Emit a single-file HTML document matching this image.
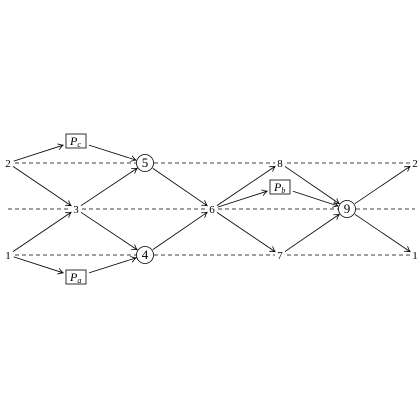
<!DOCTYPE html>
<html><head><meta charset="utf-8"><style>
html,body{margin:0;padding:0;background:#fff;width:420px;height:420px;overflow:hidden}
text{font-family:"Liberation Serif",serif;fill:#000}
</style></head><body>
<svg id="g" width="420" height="420" viewBox="0 0 420 420">
<defs><marker id="ah" markerWidth="8" markerHeight="8" refX="6" refY="4" orient="auto" markerUnits="userSpaceOnUse"><path d="M1,1 Q4,3.2 6,4 Q4,4.8 1,7" fill="none" stroke="#000" stroke-width="0.8"/></marker></defs>
</svg>
<script>
const nodeIds=['2L','1L','3','5','4','6','8','7','9','2R','1R','Pc','Pa','Pb'];
const nodeLabels=['2','1','3','5','4','6','8','7','9','2','1','P','P','P'];
const nodeX=[8,8,76,145,145,212,280,280,347,415,415,76,76,280];
const nodeY=[163,255,209,163,255,209,163,255,209,163,255,141,277,187];
const nodeKind=['t','t','t','c','c','t','t','t','c','t','t','b','b','b'];
const subs={Pc:'c',Pa:'a',Pb:'b'};
const edges=[['2L','Pc'],['Pc','5'],['2L','3'],['1L','3'],['1L','Pa'],['Pa','4'],['3','5'],['3','4'],['5','6'],['4','6'],['6','8'],['6','Pb'],['6','7'],['8','9'],['Pb','9'],['7','9'],['9','2R'],['9','1R']];
const dashed=[[15,136,163],[154,275,163],[287,410,163],[8,70,209],[82,206,209],[218,340,209],[356,415,209],[15,136,255],[154,275,255],[287,410,255]];
const svg=document.getElementById('g');const NS='http://www.w3.org/2000/svg';
function mk(t,a){const e=document.createElementNS(NS,t);for(const k in a)e.setAttribute(k,a[k]);svg.appendChild(e);return e;}
dashed.forEach(d=>{const l=mk('line',{x1:d[0],y1:d[2],x2:d[1],y2:d[2],stroke:'#000','stroke-width':0.8,'stroke-dasharray':'4,3'});

});
function idx(id){return nodeIds.indexOf(id);}
function shrink(i,dx,dy){const k=nodeKind[i];if(k==='c')return 9.5;if(k==='t')return 6;
const hw=12,hh=8;const s=Math.min(hw/Math.abs(dx||1e-6),hh/Math.abs(dy||1e-6));return s*Math.hypot(dx,dy)+1;}
edges.forEach(e=>{const a=idx(e[0]),b=idx(e[1]);const dx=nodeX[b]-nodeX[a],dy=nodeY[b]-nodeY[a],L=Math.hypot(dx,dy);
const s1=shrink(a,dx,dy),s2=shrink(b,dx,dy);
const l=mk('line',{x1:nodeX[a]+dx/L*s1,y1:nodeY[a]+dy/L*s1,x2:nodeX[b]-dx/L*s2,y2:nodeY[b]-dy/L*s2,stroke:'#000','stroke-width':0.8,'marker-end':'url(#ah)'});

});
nodeIds.forEach((id,i)=>{const x=nodeX[i],y=nodeY[i];
if(nodeKind[i]==='c'){const c=mk('circle',{cx:x,cy:y,r:8.5,fill:'#fff',stroke:'#000','stroke-width':0.8});

}
if(nodeKind[i]==='b'){const r=mk('rect',{x:x-10,y:y-7,width:20,height:14,fill:'#fff',stroke:'#000','stroke-width':0.8});


const t=mk('text',{x:x-6,y:y+4,'font-size':12,'font-style':'italic'});t.textContent='P';
const s=mk('tspan',{dy:2,'font-size':8});s.textContent=subs[id];t.appendChild(s);

return;}
const t=mk('text',{x:x,y:y+4,'font-size':nodeKind[i]==='c'?13:11,'text-anchor':'middle'});t.textContent=nodeLabels[i];

});
</script>
</body></html>
